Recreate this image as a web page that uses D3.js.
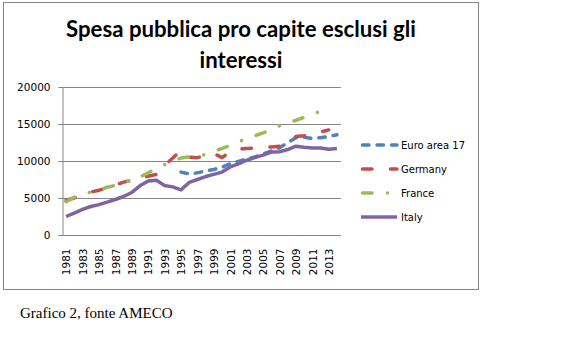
<!DOCTYPE html>
<html>
<head>
<meta charset="utf-8">
<script src="https://cdn.jsdelivr.net/npm/d3@7"></script>
<style>
  html, body { margin: 0; padding: 0; background: #fff; }
  svg { display: block; }
</style>
</head>
<body>
<svg id="chart" width="585" height="348"></svg>
<script>
// Public spending per capita excluding interest, 1981-2014 (source: AMECO)
const years = d3.range(1981, 2015);
const yTicks = [0, 5000, 10000, 15000, 20000];

const euroArea17 = [null, null, null, null, null, null, null, null, null, null,
  null, null, null, null, 8500, 8250, 8400, 8650, 8850, 9150,
  9650, 9950, 10250, 10550, 10950, 11350, 11800, 12450, 13150, 13200,
  13050, 13150, 13300, 13550];
const germany = [4700, 5000, 5400, 5800, 6050, 6350, 6750, 7150, 7400, 7700,
  7950, 8200, 9400, 10400, 11450, 10500, 10450, 10750, 11000, 10450,
  11300, 11600, 11700, 11750, 11800, 11900, 12000, 12500, 13300, 13400,
  13600, 13900, 14200, null];
const france = [4500, 5100, 5450, 5800, 6050, 6450, 6700, 6950, 7550, 7850,
  8400, 9000, 9500, 10000, 10400, 10550, 10600, 10900, 11300, 11700,
  12100, 12600, 13000, 13400, 13800, 14250, 14750, 15100, 15500, 15900,
  16350, 16700, 17000, null];
const italy = [2500, 2950, 3450, 3850, 4100, 4450, 4800, 5200, 5750, 6650,
  7300, 7400, 6700, 6500, 6100, 7100, 7500, 7900, 8200, 8500,
  9200, 9600, 10100, 10450, 10800, 11200, 11250, 11550, 12000, 11850,
  11750, 11750, 11600, 11700];

const seriesNames = ["Euro area 17", "Germany", "France", "Italy"];
const seriesValues = [euroArea17, germany, france, italy];
const seriesColors = ["#4F81BD", "#C0504D", "#9BBB59", "#8064A2"];
const seriesDash = ["6.5,8", "9.5,18.5", "9.5,15.5,0.01,15.5", null];

const svg = d3.select("#chart");
const gray = "#868686";
const tickFont = "'DejaVu Sans', Verdana, sans-serif";

// Outer chart frame
svg.append("rect")
  .attr("x", 3.5).attr("y", 2.5).attr("width", 475).attr("height", 287)
  .attr("fill", "#fff").attr("stroke", gray).attr("stroke-width", 1);

// Title, two lines, sized to fit
const title = svg.append("text")
  .attr("text-anchor", "middle")
  .attr("font-family", "Lato, Roboto, sans-serif")
  .attr("font-weight", "bold")
  .attr("fill", "#000");
title.append("tspan").attr("x", 241).attr("y", 37).text("Spesa pubblica pro capite esclusi gli");
title.append("tspan").attr("x", 241).attr("y", 68).text("interessi");
let fs = 22;
title.attr("font-size", fs);
const w1 = title.select("tspan").node().getComputedTextLength();
fs = fs * 350 / w1;
title.attr("font-size", fs.toFixed(2));

// Scales
const plot = { left: 62, right: 341, top: 87, bottom: 235 };
const x = d3.scalePoint().domain(years).range([plot.left, plot.right]).padding(0.5);
const y = d3.scaleLinear().domain([0, 20000]).range([plot.bottom, plot.top]);

// Gridlines
svg.append("g")
  .selectAll("line")
  .data(yTicks.filter(d => d > 0))
  .join("line")
  .attr("x1", plot.left).attr("x2", plot.right)
  .attr("y1", d => Math.round(y(d)) + 0.5).attr("y2", d => Math.round(y(d)) + 0.5)
  .attr("stroke", gray).attr("stroke-width", 1);

// Y axis
const yAxis = svg.append("g")
  .attr("transform", `translate(${plot.left + 0.5},0)`)
  .call(d3.axisLeft(y).tickValues(yTicks).tickSize(4).tickPadding(8).tickFormat(d3.format("d")));
yAxis.select(".domain").attr("stroke", gray);
yAxis.selectAll(".tick line").attr("stroke", gray);
yAxis.selectAll(".tick text")
  .attr("font-family", tickFont).attr("font-size", 10.5).attr("fill", "#000");

// X axis
const xAxis = svg.append("g")
  .attr("transform", `translate(0,${plot.bottom + 0.5})`)
  .call(d3.axisBottom(x).tickValues(years.filter(d => (d - 1981) % 2 === 0)).tickSize(0).tickPadding(0));
xAxis.select(".domain").attr("stroke", gray).attr("d", `M${plot.left},0H${plot.right}`);
xAxis.selectAll(".tick text")
  .attr("font-family", tickFont).attr("font-size", 10.5).attr("fill", "#000")
  .attr("text-anchor", "end")
  .attr("transform", "translate(0,13) rotate(-90)")
  .attr("x", 0).attr("y", 0).attr("dy", "0.36em");

// Series lines
const line = d3.line()
  .defined(d => d.v != null)
  .x(d => x(d.year))
  .y(d => y(d.v));

const lines = svg.append("g");
seriesValues.forEach((vals, i) => {
  const pts = years.map((yr, k) => ({ year: yr, v: vals[k] }));
  lines.append("path")
    .datum(pts)
    .attr("d", line)
    .attr("fill", "none")
    .attr("stroke", seriesColors[i])
    .attr("stroke-width", 3.5)
    .attr("stroke-linecap", seriesDash[i] ? "round" : "butt")
    .attr("stroke-linejoin", "round")
    .attr("stroke-dasharray", seriesDash[i]);
});

// Legend
const legend = svg.append("g");
const legendY = [145, 169, 193, 217];
seriesNames.forEach((name, i) => {
  const g = legend.append("g").attr("transform", `translate(0,${legendY[i]})`);
  g.append("line")
    .attr("x1", seriesDash[i] ? 362.5 : 361).attr("x2", 397).attr("y1", 0).attr("y2", 0)
    .attr("stroke", seriesColors[i]).attr("stroke-width", 3.5)
    .attr("stroke-linecap", seriesDash[i] ? "round" : "butt")
    .attr("stroke-dasharray", seriesDash[i]);
  g.append("text")
    .attr("x", 401).attr("y", 0).attr("dy", "0.35em")
    .attr("font-family", tickFont).attr("font-size", 10)
    .attr("fill", "#000")
    .text(name);
});

// Caption below the chart
svg.append("text")
  .attr("x", 20).attr("y", 318)
  .attr("font-family", "'Liberation Serif', 'Times New Roman', serif")
  .attr("font-size", 15).attr("fill", "#000")
  .text("Grafico 2, fonte AMECO");
</script>
</body>
</html>
